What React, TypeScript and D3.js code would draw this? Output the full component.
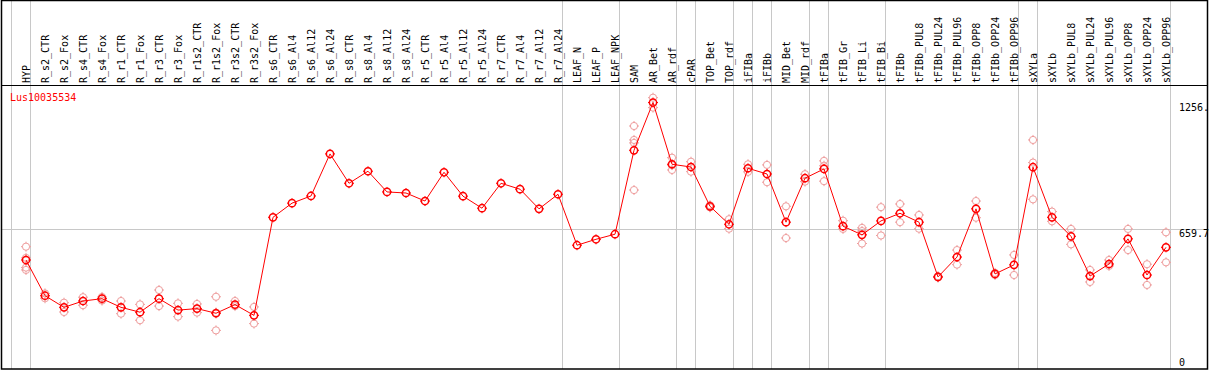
import React from "react";
import * as d3 from "d3";

const categories = [
  "HYP", "R_s2_CTR", "R_s2_Fox", "R_s4_CTR", "R_s4_Fox", "R_r1_CTR", "R_r1_Fox", "R_r3_CTR", "R_r3_Fox",
  "R_r1s2_CTR", "R_r1s2_Fox", "R_r3s2_CTR", "R_r3s2_Fox", "R_s6_CTR", "R_s6_Al4", "R_s6_Al12", "R_s6_Al24",
  "R_s8_CTR", "R_s8_Al4", "R_s8_Al12", "R_s8_Al24", "R_r5_CTR", "R_r5_Al4", "R_r5_Al12", "R_r5_Al24",
  "R_r7_CTR", "R_r7_Al4", "R_r7_Al12", "R_r7_Al24", "LEAF_N", "LEAF_P", "LEAF_NPK", "SAM", "AR_Bet", "AR_rdf",
  "cPAR", "TOP_Bet", "TOP_rdf", "iFIBa", "iFIBb", "MID_Bet", "MID_rdf", "tFIBa", "tFIB_Gr", "tFIB_Li", "tFIB_Bi",
  "tFIBb", "tFIBb_PUL8", "tFIBb_PUL24", "tFIBb_PUL96", "tFIBb_OPP8", "tFIBb_OPP24", "tFIBb_OPP96",
  "sXYLa", "sXYLb", "sXYLb_PUL8", "sXYLb_PUL24", "sXYLb_PUL96", "sXYLb_OPP8", "sXYLb_OPP24", "sXYLb_OPP96",
];

const means = [
  511, 342, 287, 317, 328, 287, 264, 328, 274, 281, 259, 300, 249,
  713, 780, 814, 1013, 874, 931, 833, 828, 790, 926, 813, 756, 874, 846, 753, 822,
  581, 609, 633, 1030, 1256, 964, 951, 765, 680, 945, 918, 690, 898,
  942, 671, 630, 696, 732, 690, 431, 525, 753, 445, 488,
  950, 713, 623, 435, 492, 611, 440, 571,
];

const replicates: number[][] = [
  [574, 521, 475, 464], [353, 330], [309, 265], [335, 297], [336, 319], [317, 257], [301, 226],
  [369, 293], [306, 243], [303, 262], [337, 262, 178], [317, 293], [289, 210],
  [], [], [], [], [], [], [], [], [], [], [], [], [], [], [], [],
  [], [], [],
  [1145, 1079, 1065, 842], [1279, 1232], [995, 960, 937], [976, 929], [770, 760], [704, 659],
  [964, 928], [961, 879], [765, 615], [917, 882],
  [980, 957, 884], [697, 658], [663, 648, 589], [761, 627],
  [776, 690], [724, 659], [434, 428], [558, 489], [790, 711], [450, 440], [535, 440],
  [1079, 972, 798], [740, 694], [658, 585], [464, 407], [511, 483], [658, 558], [491, 393], [642, 500],
];

// index of the first category of each group (and the end)
const groupStarts = [0, 1, 29, 32, 35, 36, 38, 39, 40, 42, 43, 46, 53, 54, 61];

const tickValues = [0, 659.7, 1256];
const tickLabels = ["0", "659.7", "1256."];
const geneLabel = "Lus10035534";
const yMax = 1339;

const W = 1209;
const H = 370;
const FONT = "'DejaVu Sans Mono', monospace";

export default function App() {
  const x = d3.scaleLinear().domain([0, categories.length - 1]).range([26, 1166]);
  const y = d3.scaleLinear().domain([0, yMax]).range([368, 85]);
  const line = d3
    .line<number>()
    .x((_, i) => x(i))
    .y((d) => y(d));

  const red = "#ff0000";
  const pink = "#ee9c9c";
  const grey = "#c8c8c8";

  const marker = (cx: number, cy: number, color: string, sw: number, key: string) => (
    <g key={key}>
      <circle cx={cx} cy={cy} r={3.6} fill="none" stroke={color} strokeWidth={sw} />
      <line x1={cx} x2={cx} y1={cy - 5} y2={cy - 3.5} stroke={color} strokeWidth={1} />
      <line x1={cx} x2={cx} y1={cy + 3.5} y2={cy + 5} stroke={color} strokeWidth={1} />
      <line x1={cx - 5} x2={cx - 3.5} y1={cy} y2={cy} stroke={color} strokeWidth={1} />
      <line x1={cx + 3.5} x2={cx + 5} y1={cy} y2={cy} stroke={color} strokeWidth={1} />
    </g>
  );

  return (
    <svg
      width={W}
      height={H}
      style={{ position: "absolute", left: 0, top: 0, background: "#fff" }}
      fontFamily={FONT}
      fontSize={10}
    >
      <rect x={0} y={0} width={W} height={H} fill="#fff" />
      {/* group separator lines */}
      {groupStarts.map((g) => (
        <line
          key={"g" + g}
          x1={Math.round(x(g) - 15) + 0.5}
          x2={Math.round(x(g) - 15) + 0.5}
          y1={0}
          y2={369}
          stroke={grey}
          strokeWidth={1}
        />
      ))}
      {/* mid reference line */}
      <line
        x1={1}
        x2={1208}
        y1={Math.round(y(tickValues[1])) + 0.5}
        y2={Math.round(y(tickValues[1])) + 0.5}
        stroke={grey}
        strokeWidth={1}
      />
      {/* header / frame */}
      <line x1={1} x2={1208} y1={85.5} y2={85.5} stroke="#000" strokeWidth={1} />
      <rect x={1.5} y={0.5} width={1206} height={368.5} fill="none" stroke="#000" strokeWidth={1.5} />

      {/* category labels */}
      {categories.map((c, i) => (
        <text key={c} transform={`translate(${x(i) + 4},83) rotate(-90)`} fill="#000">
          {c}
        </text>
      ))}

      {/* gene label */}
      <text x={10} y={101} fill={red}>
        {geneLabel}
      </text>

      {/* right axis labels */}
      {tickValues.map((v, i) => (
        <text key={"t" + i} x={1179} y={Math.min(y(v) + 8, 366)} fill="#000">
          {tickLabels[i]}
        </text>
      ))}

      {/* replicate points */}
      {replicates.map((reps, i) => reps.map((r, j) => marker(x(i), y(r), pink, 1, `r${i}-${j}`)))}

      {/* mean line */}
      <path d={line(means) || ""} fill="none" stroke={red} strokeWidth={1} />

      {/* mean points */}
      {means.map((m, i) => marker(x(i), y(m), red, 1.5, "m" + i))}
    </svg>
  );
}
